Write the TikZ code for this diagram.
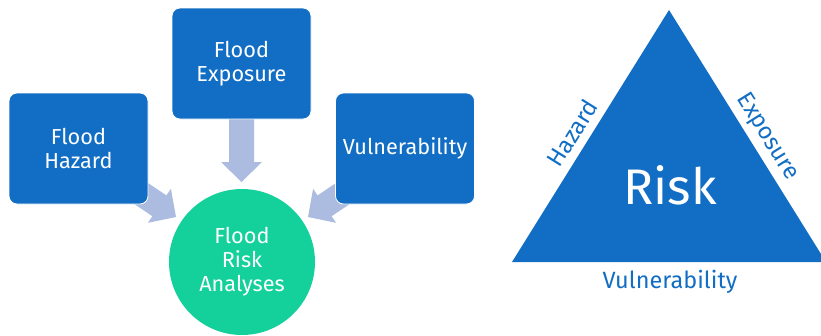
\documentclass[tikz,border=0pt]{standalone}
\usepackage{fontspec}
\setmainfont{Fira Sans}
\definecolor{boxblue}{RGB}{17,110,196}
\definecolor{circgreen}{RGB}{20,208,155}
\definecolor{arrowfill}{RGB}{171,188,224}
\tikzset{
  bluebox/.style={draw=white, line width=0.8pt, fill=boxblue, rounded corners=8pt, minimum width=139pt, minimum height=111pt, text=white, align=center, inner sep=0pt, font=\fontsize{21.7}{24}\selectfont},
  greencirc/.style={circle, fill=circgreen, minimum size=146pt, text=white, align=center, inner sep=0pt, font=\fontsize{21.7}{24}\selectfont},
  blockarrow/.style={fill=arrowfill},
  sidelabel/.style={text=boxblue, font=\fontsize{23.5}{26}\selectfont, inner sep=0pt}
}
\begin{document}
\begin{tikzpicture}[x=1pt,y=-1pt]
\useasboundingbox (0,0) rectangle (821,335);
% block arrows
\fill[blockarrow] (229,118) -- (254,118) -- (254,162) -- (262,162) -- (241.5,182) -- (221,162) -- (229,162) -- cycle;
\fill[blockarrow] (131.5,171.9) -- (166.4,195.4) -- (170.9,188.8) -- (176,217) -- (147.9,222.8) -- (152.4,216.2) -- (117.5,192.7) -- cycle;
\fill[blockarrow] (352.5,171.9) -- (317.6,195.4) -- (313.1,188.8) -- (308,217) -- (336.1,222.8) -- (331.6,216.2) -- (366.5,192.7) -- cycle;
% boxes
\node[bluebox] (haz) at (78.5,148.5) {Flood\\Hazard};
\node[bluebox] (exp) at (241.5,63.5) {Flood\\Exposure};
\node[bluebox] (vul) at (405,148.5) {Vulnerability};
\node[greencirc] (fra) at (242,262) {Flood\\Risk\\Analyses};
% triangle
\coordinate (apex) at (669,10);
\coordinate (bl) at (512,262);
\coordinate (br) at (826,262);
\fill[boxblue] (apex) -- (bl) -- (br) -- cycle;
\node[text=white, font=\fontsize{50}{52}\selectfont, inner sep=0pt] (risk) at (670,185) {Risk};
\node[sidelabel, rotate=58] (hz) at (572,133) {Hazard};
\node[sidelabel, rotate=-58] (ex) at (767,137) {Exposure};
\node[sidelabel] (vl) at (670,282) {Vulnerability};
\end{tikzpicture}
\end{document}
